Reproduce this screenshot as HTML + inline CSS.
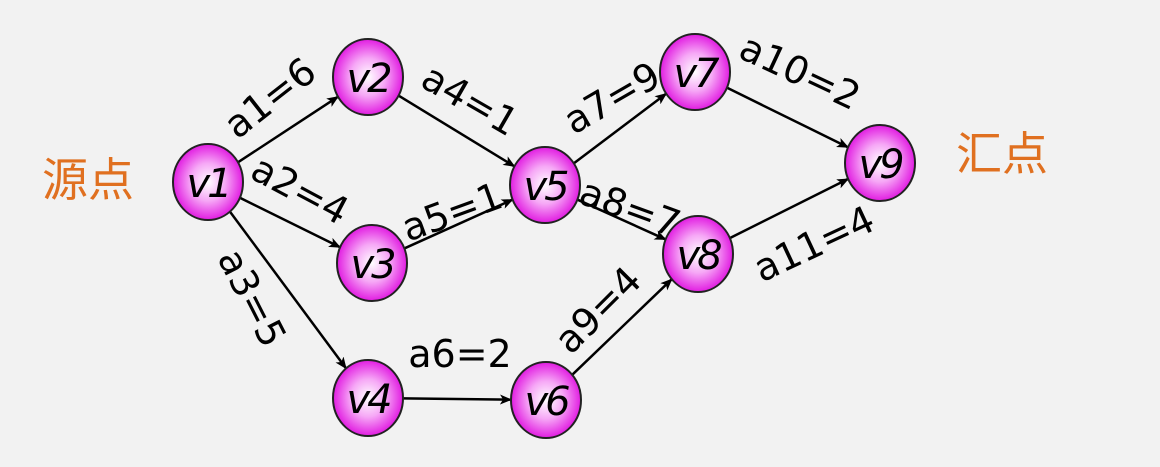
<!DOCTYPE html>
<html><head><meta charset="utf-8"><style>
html,body{margin:0;padding:0;background:#f2f2f2;}
svg{display:block;}
text{font-family:"DejaVu Sans","Noto Sans CJK SC",sans-serif;}
</style></head><body>
<svg id="g" width="1160" height="467" viewBox="0 0 1160 467">
<defs>
<radialGradient id="ng" cx="50%" cy="50%" r="55%">
<stop offset="0" stop-color="#ffffff"/>
<stop offset="0.45" stop-color="#f6a8f6"/>
<stop offset="1" stop-color="#dd00dd"/>
</radialGradient>
<marker id="ah" markerWidth="12" markerHeight="10" refX="11" refY="5" orient="auto" markerUnits="userSpaceOnUse">
<path d="M0,0 L12,5 L0,10 L3,5 Z" fill="#000"/>
</marker>
</defs>
<text x="88" y="196" font-size="46" fill="#e07020" text-anchor="middle" font-family="Noto Sans CJK SC">源点</text>
<text x="1002" y="170" font-size="46" fill="#e07020" text-anchor="middle" font-family="Noto Sans CJK SC">汇点</text>
<g id="edges"></g>
<g id="labels"></g>
<g id="nodes"></g>
</svg>
<script>
const nodeNames=["v1","v2","v3","v4","v5","v6","v7","v8","v9"];
const nodeX=[208,368,372,368,545,546,695,698,880];
const nodeY=[182,77,263,398,185,400,72,254,163];
const edgeFrom=[0,0,0,1,2,3,4,4,5,6,7];
const edgeTo=[1,2,3,4,4,5,6,7,7,8,8];
const edgeLabels=["a1=6","a2=4","a3=5","a4=1","a5=1","a6=2","a7=9","a8=7","a9=4","a10=2","a11=4"];
const labelX=[270,300,252,470,452,460,612,630,598,800,814];
const labelY=[98,190,298,100,212,354,98,208,310,72,244];
const labelAngle=[-38,28,63,30,-20,0,-30,20,-45,25,-25];
const NS="http://www.w3.org/2000/svg";
const RX=35,RY=38;
const eg=document.getElementById('edges'),lg=document.getElementById('labels'),ng=document.getElementById('nodes');
function bnd(i,dx,dy){const t=1/Math.sqrt((dx*dx)/(RX*RX)+(dy*dy)/(RY*RY));return [nodeX[i]+dx*t,nodeY[i]+dy*t];}
for(let k=0;k<edgeFrom.length;k++){
 const a=edgeFrom[k],b=edgeTo[k];
 const dx=nodeX[b]-nodeX[a],dy=nodeY[b]-nodeY[a];
 const p=bnd(a,dx,dy),q=bnd(b,-dx,-dy);
 const l=document.createElementNS(NS,'line');
 l.setAttribute('x1',p[0]);l.setAttribute('y1',p[1]);l.setAttribute('x2',q[0]);l.setAttribute('y2',q[1]);
 l.setAttribute('stroke','#000');l.setAttribute('stroke-width','2.5');l.setAttribute('marker-end','url(#ah)');
 
 
 eg.appendChild(l);
 const t=document.createElementNS(NS,'text');
 t.setAttribute('x',labelX[k]);t.setAttribute('y',labelY[k]);
 t.setAttribute('font-size','38');t.setAttribute('text-anchor','middle');t.setAttribute('dominant-baseline','central');
 t.setAttribute('transform','rotate('+labelAngle[k]+' '+labelX[k]+' '+labelY[k]+')');
 t.textContent=edgeLabels[k];
 
 
 lg.appendChild(t);
}
for(let i=0;i<nodeNames.length;i++){
 const e=document.createElementNS(NS,'ellipse');
 e.setAttribute('cx',nodeX[i]);e.setAttribute('cy',nodeY[i]);e.setAttribute('rx',RX);e.setAttribute('ry',RY);
 e.setAttribute('fill','url(#ng)');e.setAttribute('stroke','#222');e.setAttribute('stroke-width','2');
 
 
 ng.appendChild(e);
 const t=document.createElementNS(NS,'text');
 t.setAttribute('x',nodeX[i]);t.setAttribute('y',nodeY[i]+2);
 t.setAttribute('font-size','40');t.setAttribute('text-anchor','middle');t.setAttribute('dominant-baseline','central');
 t.setAttribute('font-style','italic');t.setAttribute('letter-spacing','-3');
 t.textContent=nodeNames[i];
 
 
 ng.appendChild(t);
}
</script>
</body></html>
